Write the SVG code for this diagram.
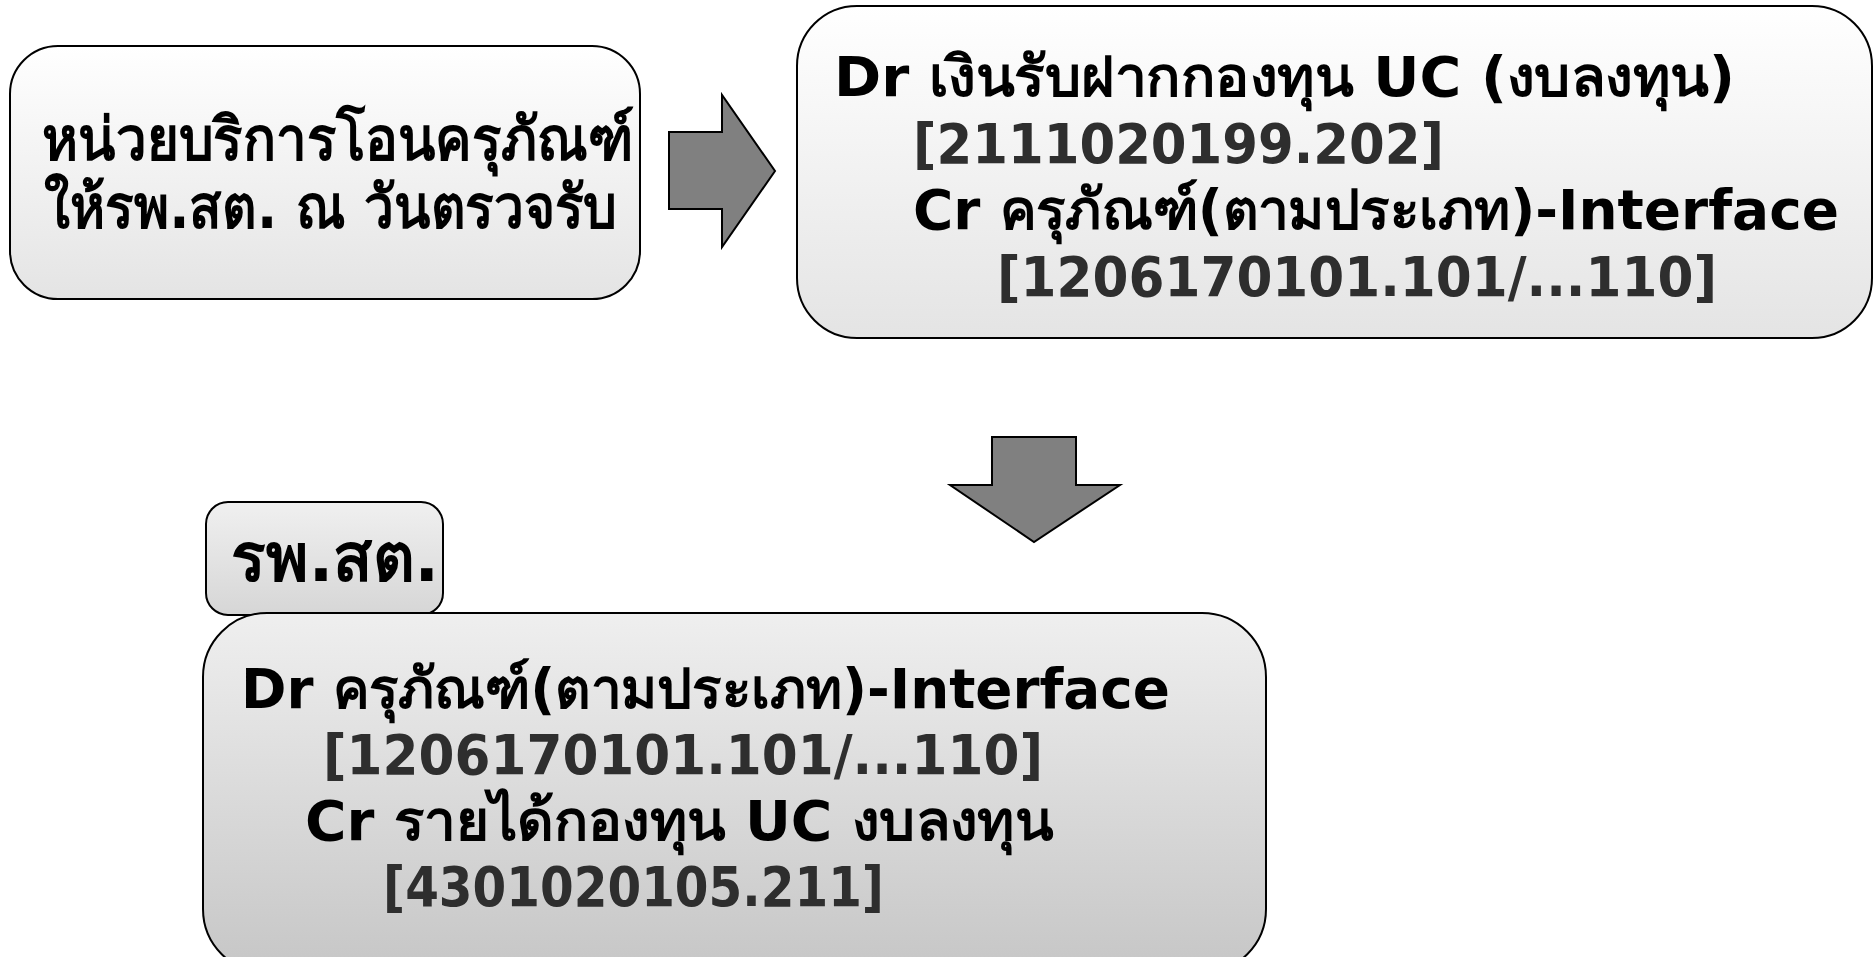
<svg xmlns="http://www.w3.org/2000/svg" width="1876" height="957" viewBox="0 0 1876 957">
<defs>
<linearGradient id="gWhite" x1="0" y1="0" x2="0" y2="1">
<stop offset="0" stop-color="#ffffff"/>
<stop offset="1" stop-color="#e4e4e4"/>
</linearGradient>
<linearGradient id="gGray" x1="0" y1="0" x2="0" y2="1">
<stop offset="0" stop-color="#efefef"/>
<stop offset="1" stop-color="#c6c6c6"/>
</linearGradient>
<linearGradient id="gTab" x1="0" y1="0" x2="0" y2="1">
<stop offset="0" stop-color="#f0f0f0"/>
<stop offset="1" stop-color="#d6d6d6"/>
</linearGradient>
</defs>
<style>
.box{stroke:#000;stroke-width:2}
.arrow{fill:#808080;stroke:#000;stroke-width:2;stroke-linejoin:miter}
text{font-family:"DejaVu Sans","Noto Sans",sans-serif;font-weight:bold}
.t52{font-size:56px;fill:#000}
.n52{font-size:56px;fill:#2e2e2e}
.t56{font-size:60px;fill:#000}
.t64{font-size:68px;fill:#000}
</style>
<rect width="1876" height="957" fill="#ffffff"/>
<g id="node-source">
<rect class="box" x="10" y="46" width="630" height="253" rx="48" fill="url(#gWhite)"/>
<text class="t56" x="42" y="160" textLength="592" lengthAdjust="spacingAndGlyphs">หน่วยบริการโอนครุภัณฑ์</text>
<text class="t56" x="44" y="228" textLength="573" lengthAdjust="spacingAndGlyphs">ให้รพ.สต. ณ วันตรวจรับ</text>
</g>
<g id="node-entry1">
<rect class="box" x="797" y="6" width="1075" height="332" rx="60" fill="url(#gWhite)"/>
<text class="t52" x="834" y="96" textLength="901" lengthAdjust="spacingAndGlyphs">Dr เงินรับฝากกองทุน UC (งบลงทุน)</text>
<text class="n52" x="913" y="163" textLength="531" lengthAdjust="spacingAndGlyphs">[2111020199.202]</text>
<text class="t52" x="913" y="229" textLength="926" lengthAdjust="spacingAndGlyphs">Cr ครุภัณฑ์(ตามประเภท)-Interface</text>
<text class="n52" x="997" y="296" textLength="720" lengthAdjust="spacingAndGlyphs">[1206170101.101/...110]</text>
</g>
<g id="node-tab">
<rect class="box" x="206" y="502" width="237" height="113" rx="22" fill="url(#gTab)"/>
<text class="t64" x="231" y="581" textLength="208" lengthAdjust="spacingAndGlyphs">รพ.สต.</text>
</g>
<g id="node-entry2">
<rect class="box" x="203" y="613" width="1063" height="360" rx="64" fill="url(#gGray)"/>
<text class="t52" x="241" y="708" textLength="929" lengthAdjust="spacingAndGlyphs">Dr ครุภัณฑ์(ตามประเภท)-Interface</text>
<text class="n52" x="323" y="774" textLength="720" lengthAdjust="spacingAndGlyphs">[1206170101.101/...110]</text>
<text class="t52" x="305" y="840" textLength="748" lengthAdjust="spacingAndGlyphs">Cr รายได้กองทุน UC งบลงทุน</text>
<text class="n52" x="383" y="906" textLength="501" lengthAdjust="spacingAndGlyphs">[4301020105.211]</text>
</g>
<g id="connectors">
<polygon class="arrow" points="669,132 722,132 722,95 775,171 722,247 722,209 669,209"/>
<polygon class="arrow" points="992,437 1076,437 1076,485 1120,485 1034,542 950,485 992,485"/>
</g>
</svg>
